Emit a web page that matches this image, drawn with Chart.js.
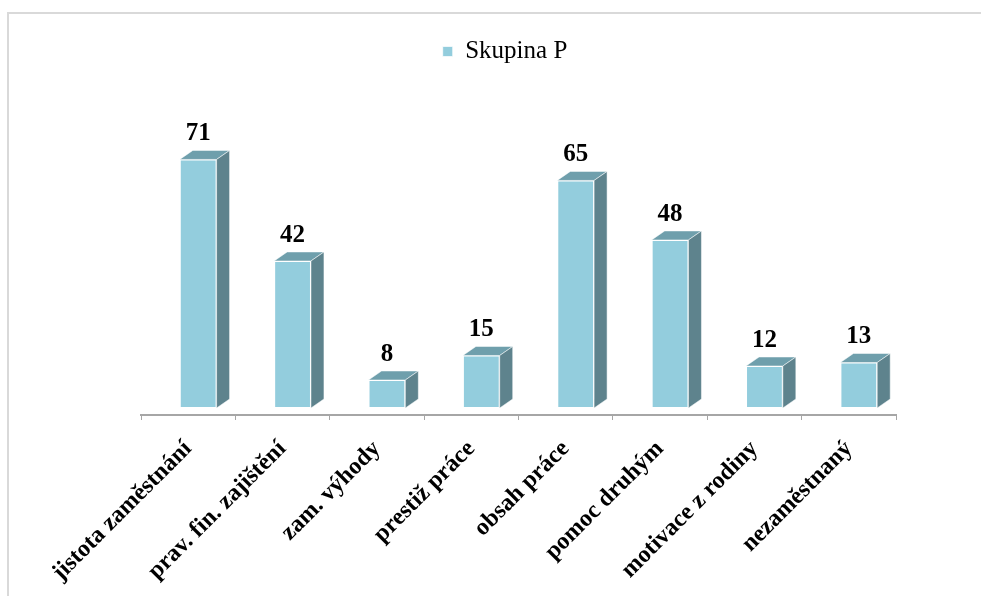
<!DOCTYPE html>
<html lang="cs">
<head>
<meta charset="utf-8">
<title>Skupina P</title>
<script src="https://cdn.jsdelivr.net/npm/chart.js@4/dist/chart.umd.min.js"></script>
<style>
  html, body { margin: 0; padding: 0; background: #fff; }
  #wrap { position: relative; width: 981px; height: 596px; overflow: hidden; }
  #frame {
    position: absolute; left: 7px; top: 12px; width: 1100px; height: 800px;
    border-left: 2px solid #d9d9d9; border-top: 2px solid #d9d9d9;
    pointer-events: none;
  }
</style>
</head>
<body>
<div id="wrap">
  <canvas id="chart"></canvas>
  <div id="frame"></div>
</div>
<script>
// Reasons for choosing the job, group P
const categories = [
    'jistota zaměstnání',
    'prav. fin. zajištění',
    'zam. výhody',
    'prestiž práce',
    'obsah práce',
    'pomoc druhým',
    'motivace z rodiny',
    'nezaměstnaný',
];
const skupinaP = [71, 42, 8, 15, 65, 48, 12, 13];

const SERIF = "'Times New Roman', 'Liberation Serif', serif";

const FRONT = '#93cddd';
const TOP = '#6f9fac';
const SIDE = '#5e838d';

// fake 3D: depth of the box and shift of the whole column off the category centre
const depthX = 13;
const depthY = 9;
const barShift = 10;

const bar3d = {
    id: 'bar3d',
    beforeDatasetsDraw(chart) {
        chart.ctx.save();
        chart.ctx.translate(barShift, 0);
    },
    afterDatasetsDraw(chart) {
        const ctx = chart.ctx;
        const meta = chart.getDatasetMeta(0);
        meta.data.forEach((bar, i) => {
            const { x, y, base, width } = bar.getProps(['x', 'y', 'base', 'width'], true);
            const l = x - width / 2;
            const r = x + width / 2;

            // top face
            ctx.beginPath();
            ctx.moveTo(l, y);
            ctx.lineTo(l + depthX, y - depthY);
            ctx.lineTo(r + depthX, y - depthY);
            ctx.lineTo(r, y);
            ctx.closePath();
            ctx.fillStyle = TOP;
            ctx.fill();
            ctx.strokeStyle = 'rgba(255,255,255,0.5)';
            ctx.lineWidth = 1;
            ctx.stroke();

            // side face
            ctx.beginPath();
            ctx.moveTo(r, y);
            ctx.lineTo(r + depthX, y - depthY);
            ctx.lineTo(r + depthX, base - depthY);
            ctx.lineTo(r, base);
            ctx.closePath();
            ctx.fillStyle = SIDE;
            ctx.fill();
            ctx.stroke();

            // value label
            ctx.fillStyle = '#000';
            ctx.font = 'bold 25px ' + SERIF;
            ctx.textAlign = 'center';
            ctx.textBaseline = 'alphabetic';
            ctx.fillText(String(skupinaP[i]), x, y - depthY - 10);
        });
        ctx.restore();
    },
};

new Chart(document.getElementById('chart'), {
    type: 'bar',
    data: {
        labels: categories,
        datasets: [{
            label: 'Skupina P',
            data: skupinaP,
            backgroundColor: FRONT,
            borderColor: 'rgba(255,255,255,0.7)',
            borderWidth: 1,
            borderSkipped: false,
            categoryPercentage: 1,
            barPercentage: 0.39,
        }],
    },
    options: {
        responsive: true,
        maintainAspectRatio: false,
        animation: false,
        layout: { padding: { left: 114, right: 85, top: 29, bottom: 0 } },
        plugins: {
            legend: {
                position: 'top',
                labels: {
                    color: '#000',
                    boxWidth: 10,
                    boxHeight: 10,
                    padding: 10,
                    font: { family: SERIF, size: 25 },
                },
            },
            tooltip: { enabled: false },
        },
        scales: {
            x: {
                afterFit(scale) { scale.height = 181; },
                grid: {
                    offset: true,
                    drawOnChartArea: false,
                    drawTicks: true,
                    tickLength: 5,
                    color: '#a6a6a6',
                },
                border: { color: '#a6a6a6', width: 2 },
                ticks: {
                    color: '#000',
                    minRotation: 45,
                    maxRotation: 45,
                    autoSkip: false,
                    padding: 15,
                    font: { family: SERIF, size: 24, weight: 'bold' },
                },
            },
            y: {
                min: -2,
                max: 95.4,
                afterFit(scale) { scale.width = 27; },
                grid: { display: false },
                border: { display: false },
                ticks: { display: false },
            },
        },
    },
    plugins: [bar3d],
});
</script>
</body>
</html>
